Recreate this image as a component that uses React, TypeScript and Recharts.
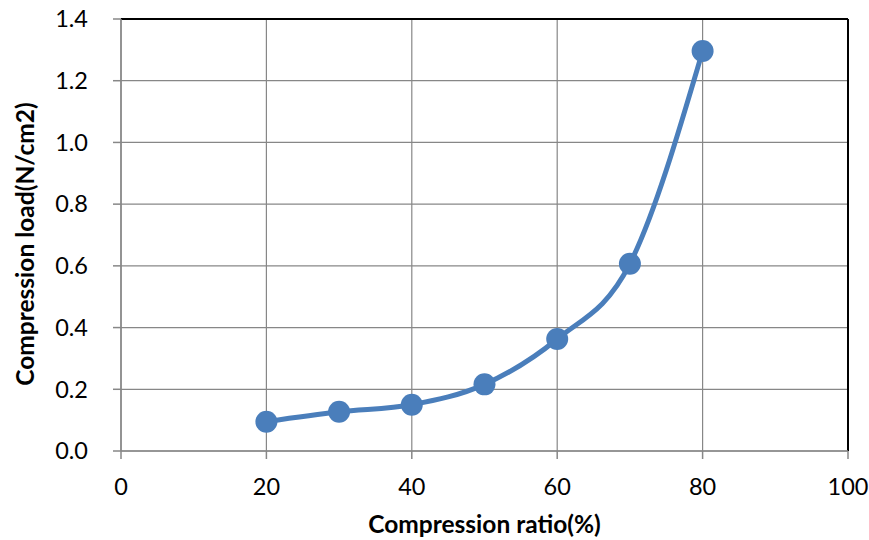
import React from "react";
import {
  LineChart,
  Line,
  XAxis,
  YAxis,
  CartesianGrid,
  ReferenceLine,
  Label,
} from "recharts";

const ratios = [20, 30, 40, 50, 60, 70, 80];
const loads = [0.095, 0.127, 0.15, 0.216, 0.363, 0.607, 1.296];
const xTicks = [0, 20, 40, 60, 80, 100];
const yTicks = [0, 0.2, 0.4, 0.6, 0.8, 1.0, 1.2, 1.4];

const data = ratios.map((r, i) => ({ ratio: r, load: loads[i] }));

const FONT = "Lato, 'Open Sans', sans-serif";
const GRID = "#878787";
const BLUE = "#4a7ebb";

const tickStyle = { fontFamily: FONT, fontSize: 23.5, fill: "#000" };

export default function App() {
  return (
    <div style={{ position: "absolute", left: 0, top: 0, background: "#fff" }}>
      <LineChart
        width={869}
        height={540}
        data={data}
        margin={{ top: 19, right: 21, bottom: 0, left: 61 }}
      >
        <CartesianGrid stroke={GRID} strokeWidth={1.2} />
        <XAxis
          dataKey="ratio"
          type="number"
          domain={[0, 100]}
          ticks={xTicks}
          height={89}
          tick={tickStyle}
          tickSize={8}
          tickMargin={19}
          axisLine={{ stroke: GRID, strokeWidth: 1.5 }}
          tickLine={{ stroke: GRID, strokeWidth: 1.5 }}
        >
          <Label
            content={({ viewBox }: any) => (
              <text
                x={viewBox.x + viewBox.width / 2}
                y={533}
                textAnchor="middle"
                fontFamily={FONT}
                fontWeight="bold"
                fontSize={24.5}
                fill="#000"
              >
                Compression ratio(%)
              </text>
            )}
          />
        </XAxis>
        <YAxis
          type="number"
          domain={[0, 1.4]}
          ticks={yTicks}
          width={60}
          tick={tickStyle}
          tickSize={8}
          tickMargin={25}
          tickFormatter={(v: number) => v.toFixed(1)}
          axisLine={{ stroke: GRID, strokeWidth: 1.5 }}
          tickLine={{ stroke: GRID, strokeWidth: 1.5 }}
        >
          <Label
            content={() => (
              <text
                x={34}
                y={244}
                transform="rotate(-90 34 244)"
                textAnchor="middle"
                fontFamily={FONT}
                fontWeight="bold"
                fontSize={24.5}
                fill="#000"
              >
                Compression load(N/cm2)
              </text>
            )}
          />
        </YAxis>
        <ReferenceLine y={1.4} stroke="#000" strokeWidth={2} />
        <ReferenceLine x={100} stroke="#000" strokeWidth={2} />
        <Line
          dataKey="load"
          type="monotone"
          stroke={BLUE}
          strokeWidth={5}
          dot={{ r: 11, fill: BLUE, stroke: "none" }}
          activeDot={false}
          isAnimationActive={false}
        />
      </LineChart>
    </div>
  );
}
